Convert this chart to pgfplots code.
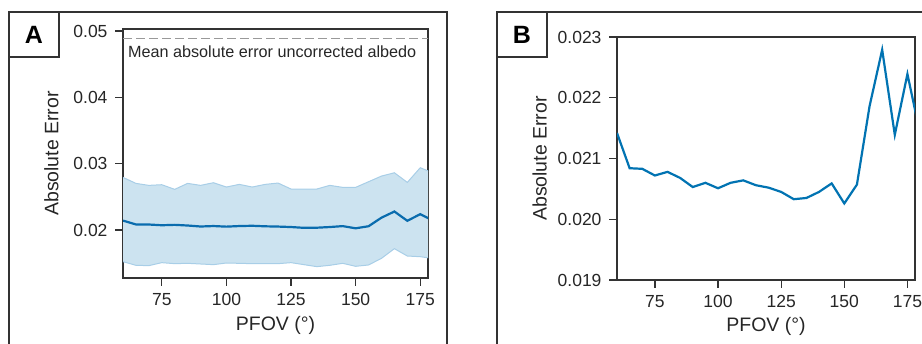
\documentclass[border=0pt]{standalone}
\usepackage{pgfplots}
\pgfplotsset{compat=1.18}
\usepgfplotslibrary{fillbetween}
\usepackage{fontspec}
\setmainfont{Liberation Sans}
\definecolor{c0}{HTML}{0173B2}
\definecolor{cA}{HTML}{0A6CAE}
\definecolor{band}{HTML}{CCE3F0}
\definecolor{bandedge}{HTML}{A8CEE7}
\definecolor{frame}{HTML}{333333}

\pgfplotstableread{
x    mean     lo       hi
60   0.02142  0.01523  0.02793
65   0.02084  0.01468  0.02703
70   0.02083  0.01463  0.02673
75   0.02072  0.01508  0.02683
80   0.02078  0.01493  0.02613
85   0.02068  0.01498  0.02703
90   0.02053  0.01488  0.02673
95   0.02060  0.01478  0.02713
100  0.02051  0.01503  0.02648
105  0.02060  0.01498  0.02688
110  0.02064  0.01493  0.02648
115  0.02056  0.01493  0.02688
120  0.02052  0.01493  0.02708
125  0.02045  0.01508  0.02618
130  0.02033  0.01478  0.02618
135  0.02035  0.01448  0.02618
140  0.02045  0.01468  0.02673
145  0.02059  0.01498  0.02643
150  0.02026  0.01453  0.02643
155  0.02057  0.01473  0.02728
160  0.02186  0.01573  0.02813
165  0.02279  0.01719  0.02863
170  0.02139  0.01608  0.02718
175  0.02239  0.01598  0.02939
180  0.02141  0.01570  0.02860
}\dataA

\pgfplotsset{
  panel/.style={
    scale only axis,
    anchor=south west,
    axis line style={line width=1.5pt, draw=frame},
    tick style={line width=1.3pt, draw=frame},
    major tick length=8pt,
    tick align=outside,
    xtick pos=bottom, ytick pos=left,
    xmin=60, xmax=178,
    xtick={75,100,125,150,175},
    scaled y ticks=false,
    ticklabel style={font=\fontsize{17.5}{17.5}\selectfont, text=black!85},
    xticklabel style={yshift=-4pt},
    label style={font=\fontsize{19.5}{19.5}\selectfont, text=black!85},
    /pgf/number format/assume math mode=true,
    clip=true,
  }
}

\begin{document}
\begin{tikzpicture}
% Panel A frame and label
\draw[line width=1.5pt, frame] (9pt,-10pt) -- (9pt,332pt) -- (447pt,332pt) -- (447pt,-10pt);
\draw[line width=1.5pt, frame] (9pt,287pt) -- (59pt,287pt) -- (59pt,332pt);
\node[font=\fontsize{25}{25}\selectfont\bfseries] at (34pt,309.5pt) {A};

% Panel B frame and label
\draw[line width=1.5pt, frame] (497pt,-10pt) -- (497pt,332pt) -- (930pt,332pt);
\draw[line width=1.5pt, frame] (497pt,287pt) -- (547pt,287pt) -- (547pt,332pt);
\node[font=\fontsize{25}{25}\selectfont\bfseries] at (522pt,309.5pt) {B};

\begin{axis}[panel,
  at={(123pt,66pt)}, width=305pt, height=249pt,
  ymin=0.01277, ymax=0.0503,
  ytick={0.02,0.03,0.04,0.05},
  yticklabel style={xshift=-4pt, /pgf/number format/fixed, /pgf/number format/fixed zerofill, /pgf/number format/precision=2},
  xlabel={PFOV (°)}, ylabel={Absolute Error},
  xlabel style={yshift=-4pt},
  ylabel style={yshift=8pt},
]
\addplot[name path=hi, draw=none] table[x=x, y=hi] {\dataA};
\addplot[name path=lo, draw=none] table[x=x, y=lo] {\dataA};
\addplot[fill=band, draw=none] fill between[of=hi and lo];
\addplot[bandedge, line width=1pt] table[x=x, y=hi] {\dataA};
\addplot[bandedge, line width=1pt] table[x=x, y=lo] {\dataA};
\addplot[cA, line width=2.2pt] table[x=x, y=mean] {\dataA};
\addplot[gray!80, line width=1.5pt, dash pattern=on 9pt off 4pt] coordinates {(55,0.0489) (185,0.0489)};
\node[anchor=west, font=\fontsize{16.2}{16.2}\selectfont, text=black!85, inner sep=0pt] at (axis cs:61.9,0.04684) {Mean absolute error uncorrected albedo};
\end{axis}

\begin{axis}[panel,
  at={(617pt,64pt)}, width=298pt, height=243pt,
  ymin=0.019, ymax=0.023,
  ytick={0.019,0.020,0.021,0.022,0.023},
  yticklabel style={xshift=-4pt, /pgf/number format/fixed, /pgf/number format/fixed zerofill, /pgf/number format/precision=3},
  xlabel={PFOV (°)}, ylabel={Absolute Error},
  xlabel style={yshift=-3pt},
  ylabel style={yshift=4pt},
]
\addplot[c0, line width=2.2pt] table[x=x, y=mean] {\dataA};
\end{axis}
\pgfresetboundingbox
\path[use as bounding box] (0pt,0pt) rectangle (922pt,344pt);
\end{tikzpicture}
\end{document}
